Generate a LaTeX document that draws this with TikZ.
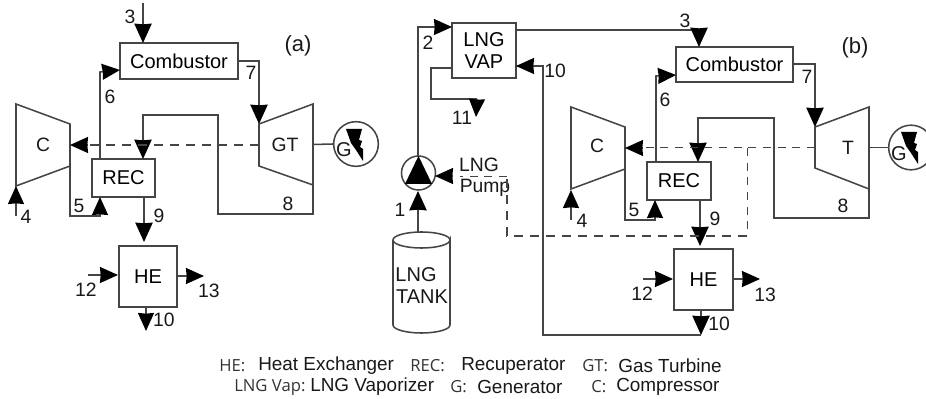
\documentclass[tikz,border=0pt]{standalone}
\usepackage{fontspec}
\setmainfont{Liberation Sans}
\newfontfamily\legendfont{Open Sans}
\usetikzlibrary{arrows.meta}
\definecolor{ink}{gray}{0.27}
\tikzset{
  box/.style={draw=ink,line width=1.15pt,fill=white,inner sep=0pt,font=\fontsize{15}{18}\selectfont},
  lab/.style={inner sep=0pt,font=\fontsize{14.5}{17}\selectfont,text=black!90},
  big/.style={inner sep=0pt,font=\fontsize{16.5}{18}\selectfont,text=black!90},
  flow/.style={draw=ink,line width=1.15pt},
  arr/.style={flow,-{Stealth[length=14.5pt,width=13pt,inset=.5pt,color=black]}},
  sarr/.style={flow,-{Stealth[length=13.5pt,width=12pt,inset=.5pt,color=black]}},
  dash1/.style={draw=ink,line width=1.1pt,dash pattern=on 7pt off 5pt},
  dash2/.style={draw=ink,line width=.75pt,dash pattern=on 6pt off 5pt},
  machine/.style={draw=ink,line width=1.15pt,line join=miter},
  gen/.style={circle,draw=ink,line width=1.15pt,minimum size=33.5pt,inner sep=0pt},
  bolt/.style={fill=black,draw=none},
  legend/.style={inner sep=0pt,anchor=west,font=\fontsize{14.2}{17}\selectfont,text=black!90},
  abbr/.style={inner sep=0pt,anchor=west,font=\legendfont\fontsize{12.5}{14}\selectfont,text=black!80},
}
\begin{document}
\begin{tikzpicture}[x=.75pt,y=-.75pt]
\useasboundingbox (0,0) rectangle (926,399);

%% ---------- (a) ----------
\draw[machine] (16,104) -- (70,124) -- (70,166) -- (16,186) -- cycle;
\draw[machine] (259,124) -- (313,104) -- (313,185) -- (259,166) -- cycle;
\node[lab] (aC) at (43,145) {C};
\node[lab] (aGT) at (285,145) {GT};
\node[box,minimum width=88.5pt,minimum height=27pt] (acomb) at (179,61) {Combustor};
\node[box,minimum width=47.5pt,minimum height=28.5pt] (arec) at (123.5,178) {REC};
\node[box,minimum width=43.5pt,minimum height=46pt] (ahe) at (148,276.5) {HE};
\node[gen] (agen) at (356,144) {};
\node[lab,font=\fontsize{15}{18}\selectfont] (aG) at (344,150) {G};
\fill[bolt] (346,129) -- (362,129) -- (359,140) -- (362,141) -- (360,147) -- (363,149) -- (363,161) -- (356,150) -- (351,143) -- cycle;

\coordinate (a3s) at (143,3);
\coordinate (a3t) at (143,43);
\coordinate (a6s) at (100,159);
\coordinate (a6k) at (100,72);
\coordinate (a6t) at (120,70);
\coordinate (a7s) at (238,61);
\coordinate (a7k) at (259,61);
\coordinate (a7t) at (259,124);
\coordinate (a8s) at (313,185);
\coordinate (a8a) at (313,214);
\coordinate (a8b) at (218,214);
\coordinate (a8c) at (218,115);
\coordinate (a8d) at (143,115);
\coordinate (a8t) at (143,159);
\coordinate (a5s) at (70,166);
\coordinate (a5a) at (70,216);
\coordinate (a5b) at (100,216);
\coordinate (a5t) at (100,197);
\coordinate (a4s) at (16,216);
\coordinate (a4t) at (16,186);
\coordinate (a9s) at (144,197);
\coordinate (a9t) at (144,242);
\coordinate (a12s) at (88,275);
\coordinate (a12t) at (118,275);
\coordinate (a13s) at (177,276);
\coordinate (a13t) at (204,276);
\coordinate (a10s) at (146,307);
\coordinate (a10t) at (146,331);
\coordinate (adS) at (259,145);
\coordinate (adT) at (70,145);

\draw[arr] (a3s) -- (a3t);
\draw[sarr] (a6s) -- (a6k) -- (a6t);
\draw[arr] (a7s) -- (a7k) -- (a7t);
\draw[arr] (a8s) -- (a8a) -- (a8b) -- (a8c) -- (a8d) -- (a8t);
\draw[sarr] (a5s) -- (a5a) -- (a5b) -- (a5t);
\draw[sarr] (a4s) -- (a4t);
\draw[arr] (a9s) -- (a9t);
\draw[sarr] (a12s) -- (a12t);
\draw[sarr] (a13s) -- (a13t);
\draw[sarr] (a10s) -- (a10t);
\draw[dash1] (adS) -- (88,145);
\draw[sarr] (88,145) -- (adT);
\draw[flow] (313,144.5) -- (agen.west);

\node[lab] (a3) at (130,17) {3};
\node[big] (atag) at (298,46) {(a)};
\node[lab] (a7) at (251,73) {7};
\node[lab] (a6) at (110,97) {6};
\node[lab] (a5) at (79,206) {5};
\node[lab] (a4) at (26,217) {4};
\node[lab] (a9) at (159,216) {9};
\node[lab] (a8) at (288,204) {8};
\node[lab] (a12) at (86,290) {12};
\node[lab] (a13) at (209,291) {13};
\node[lab] (a10) at (164,320) {10};

%% ---------- (b) ----------
\draw[machine] (571,107) -- (625,127) -- (625,169) -- (571,189) -- cycle;
\draw[machine] (815,127) -- (869,107) -- (869,189) -- (815,168) -- cycle;
\node[lab] (bC) at (597,146) {C};
\node[lab] (bT) at (848,148) {T};
\node[box,minimum width=48pt,minimum height=41.5pt,align=center,font=\fontsize{15}{17}\selectfont] (bvap) at (484,50.5) {LNG\\VAP};
\node[box,minimum width=88pt,minimum height=26.5pt] (bcomb) at (734.5,64.5) {Combustor};
\node[box,minimum width=48pt,minimum height=28.5pt] (brec) at (679,181) {REC};
\node[box,minimum width=44pt,minimum height=46pt] (bhe) at (703.5,279.5) {HE};
\node[gen] (bgen) at (911,147.5) {};
\node[lab,font=\fontsize{15}{18}\selectfont] (bG) at (899,154) {G};
\fill[bolt] (901,132) -- (917,132) -- (914,143) -- (917,144) -- (915,150) -- (918,152) -- (918,164) -- (911,153) -- (906,146) -- cycle;

% LNG tank
\draw[machine,fill=white] (393,240) -- (393,325) arc[start angle=180,end angle=0,x radius=28.5,y radius=8] -- (450,240) arc[start angle=0,end angle=360,x radius=28.5,y radius=8];
\coordinate (btank) at (418,232);
\node[lab,font=\fontsize{15}{18}\selectfont] (bt1) at (416,275) {LNG};
\node[lab,font=\fontsize{15}{18}\selectfont] (bt2) at (422,297) {TANK};

% pump
\node[circle,draw=ink,line width=1.15pt,minimum size=25.5pt,inner sep=0pt] (bpump) at (418.5,173) {};
\fill[black] (418.5,156) -- (432,184) -- (405,184) -- cycle;
\node[lab,font=\fontsize{14.5}{17}\selectfont] (bp1) at (479,165) {LNG};
\node[lab,font=\fontsize{14.5}{17}\selectfont] (bp2) at (485,188) {Pump};

\coordinate (b1s) at (418,232);
\coordinate (b1t) at (418,191);
\coordinate (b2s) at (418,156);
\coordinate (b2k) at (418,27);
\coordinate (b2t) at (452,27);
\coordinate (b3s) at (516,30);
\coordinate (b3k) at (699,30);
\coordinate (b3t) at (699,47);
\coordinate (b10a) at (701,310);
\coordinate (b10b) at (701,335);
\coordinate (b10c) at (543,335);
\coordinate (b10d) at (543,66);
\coordinate (b10t) at (516,66);
\coordinate (b11a) at (452,68);
\coordinate (b11b) at (431,68);
\coordinate (b11c) at (431,99);
\coordinate (b11d) at (477,99);
\coordinate (b11t) at (476,117);
\coordinate (b6s) at (656,162);
\coordinate (b6k) at (656,76);
\coordinate (b6t) at (676,75);
\coordinate (b7s) at (793,64);
\coordinate (b7k) at (815,64);
\coordinate (b7t) at (815,127);
\coordinate (b8s) at (869,189);
\coordinate (b8a) at (869,218);
\coordinate (b8b) at (774,218);
\coordinate (b8c) at (774,118);
\coordinate (b8d) at (698,118);
\coordinate (b8t) at (698,162);
\coordinate (b5s) at (625,169);
\coordinate (b5a) at (625,220);
\coordinate (b5b) at (655,220);
\coordinate (b5t) at (655,200);
\coordinate (b4s) at (571,220);
\coordinate (b4t) at (571,190);
\coordinate (b9s) at (700,200);
\coordinate (b9t) at (700,246);
\coordinate (b12s) at (643,279);
\coordinate (b12t) at (673,279);
\coordinate (b13s) at (733,279);
\coordinate (b13t) at (760,279);
\coordinate (bdS) at (815,148);
\coordinate (bdT) at (625,148);
\coordinate (bdJ) at (747,148);
\coordinate (bdA) at (747,236);
\coordinate (bdB) at (507,236);
\coordinate (bdC) at (507,177);
\coordinate (bdD) at (460,177);
\coordinate (bpT) at (435,176);

\draw[arr] (b1s) -- (b1t);
\draw[sarr] (b2s) -- (b2k) -- (b2t);
\draw[arr] (b3s) -- (b3k) -- (b3t);
\draw[arr] (b10a) -- (b10b);
\draw[flow] (b10b) -- (b10c) -- (b10d) -- (b10t);
\draw[sarr] (b10d) -- (b10t);
\draw[flow] (b11a) -- (b11b) -- (b11c) -- (b11d);
\draw[sarr] (b11d) -- (b11t);
\draw[sarr] (b6s) -- (b6k) -- (b6t);
\draw[arr] (b7s) -- (b7k) -- (b7t);
\draw[arr] (b8s) -- (b8a) -- (b8b) -- (b8c) -- (b8d) -- (b8t);
\draw[sarr] (b5s) -- (b5a) -- (b5b) -- (b5t);
\draw[sarr] (b4s) -- (b4t);
\draw[arr] (b9s) -- (b9t);
\draw[sarr] (b12s) -- (b12t);
\draw[sarr] (b13s) -- (b13t);
\draw[dash2] (bdS) -- (643,148);
\draw[sarr] (643,148) -- (bdT);
\draw[dash2] (bdJ) -- (bdA);
\draw[dash1] (bdA) -- (bdB) -- (bdC);
\draw[dash2] (bdC) -- (bdD);
\draw[sarr] (453,176) -- (bpT);
\draw[flow] (869,147.5) -- (bgen.west);

\node[lab] (b1) at (400,210) {1};
\node[lab] (b2) at (428,43) {2};
\node[lab] (b3) at (685,21) {3};
\node[big] (btag) at (855,48) {(b)};
\node[lab] (b7) at (807,77) {7};
\node[lab] (b6) at (665,100) {6};
\node[lab] (b5) at (634,210) {5};
\node[lab] (b4) at (582,221) {4};
\node[lab] (b9) at (715,219) {9};
\node[lab] (b8) at (843,206) {8};
\node[lab] (b12) at (642,294) {12};
\node[lab] (b13) at (765,295) {13};
\node[lab] (b10) at (719,324) {10};
\node[lab] (b10v) at (555,71) {10};
\node[lab] (b11) at (462,118) {11};

%% ---------- legend ----------
\node[abbr] (l1) at (219,366) {HE:};
\node[legend] (l2) at (258,366) {Heat Exchanger};
\node[abbr] (l3) at (410,366) {REC:};
\node[legend] (l4) at (461,366) {Recuperator};
\node[abbr] (l5) at (582,366) {GT:};
\node[legend] (l6) at (618,366) {Gas Turbine};
\node[abbr] (l7) at (234,387) {LNG Vap:};
\node[legend] (l8) at (310,387) {LNG Vaporizer};
\node[abbr] (l9) at (450,387) {G:};
\node[legend] (l10) at (477,387) {Generator};
\node[abbr] (l11) at (591,387) {C:};
\node[legend] (l12) at (616,387) {Compressor};
\end{tikzpicture}
\end{document}
